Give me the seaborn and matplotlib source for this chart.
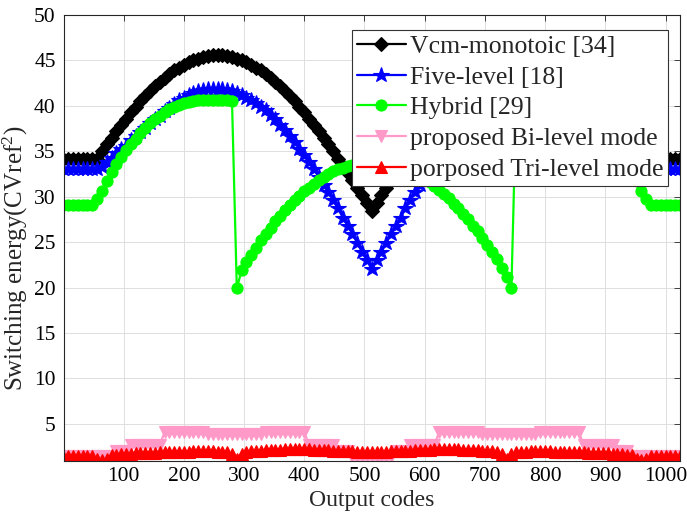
import numpy as np
import pandas as pd
import matplotlib
matplotlib.use("Agg")
import matplotlib.pyplot as plt
import seaborn as sns

# ---------------- data ----------------
codes = list(range(0, 1025, 8))

vcm_monotonic = [
    34.2, 34.2, 34.2, 34.2, 34.2, 34.2, 34.2, 34.2,
    35.0, 35.8, 36.5, 37.2, 37.9, 38.6, 39.3, 39.9,
    40.5, 41.1, 41.6, 42.2, 42.6, 43.1, 43.5, 43.9,
    44.2, 44.5, 44.8, 45.0, 45.2, 45.4, 45.5, 45.6,
    45.6, 45.6, 45.5, 45.4, 45.2, 45.0, 44.8, 44.5,
    44.2, 43.9, 43.5, 43.1, 42.6, 42.2, 41.6, 41.1,
    40.5, 39.9, 39.3, 38.6, 37.9, 37.2, 36.5, 35.8,
    35.0, 34.2, 33.4, 32.6, 31.8, 31.0, 30.2, 29.3,
    28.4,
    29.3, 30.2, 31.0, 31.8, 32.6, 33.4, 34.2, 35.0,
    35.8, 36.5, 37.2, 37.9, 38.6, 39.3, 39.9, 40.5,
    41.1, 41.6, 42.2, 42.6, 43.1, 43.5, 43.9, 44.2,
    44.5, 44.8, 45.0, 45.2, 45.4, 45.5, 45.6, 45.6,
    45.6, 45.5, 45.4, 45.2, 45.0, 44.8, 44.5, 44.2,
    43.9, 43.5, 43.1, 42.6, 42.2, 41.6, 41.1, 40.5,
    39.9, 39.3, 38.6, 37.9, 37.2, 36.5, 35.8, 35.0,
    34.2, 34.2, 34.2, 34.2, 34.2, 34.2, 34.2, 34.2,
]

five_level = [
    33.1, 33.1, 33.1, 33.1, 33.1, 33.1, 33.1, 33.1,
    33.3, 33.8, 34.3, 34.8, 35.2, 35.6, 36.2, 36.7,
    37.1, 37.6, 38.1, 38.5, 38.9, 39.4, 39.8, 40.2,
    40.6, 40.9, 41.2, 41.4, 41.6, 41.7, 41.8, 41.8,
    41.8, 41.8, 41.7, 41.6, 41.4, 41.2, 40.9, 40.6,
    40.3, 39.9, 39.5, 39.0, 38.5, 37.9, 37.3, 36.7,
    36.0, 35.3, 34.6, 33.8, 33.0, 32.2, 31.3, 30.5,
    29.6, 28.7, 27.7, 26.8, 25.9, 24.9, 23.9, 23.0,
    22.0,
    23.0, 23.9, 24.9, 25.9, 26.8, 27.7, 28.7, 29.6,
    30.5, 31.3, 32.2, 33.0, 33.8, 34.6, 35.3, 36.0,
    36.7, 37.3, 37.9, 38.5, 39.0, 39.5, 39.9, 40.3,
    40.6, 40.9, 41.2, 41.4, 41.6, 41.7, 41.8, 41.8,
    41.8, 41.8, 41.7, 41.6, 41.4, 41.2, 40.9, 40.6,
    40.2, 39.8, 39.4, 38.9, 38.5, 38.1, 37.6, 37.1,
    36.7, 36.2, 35.6, 35.2, 34.8, 34.3, 33.8, 33.3,
    33.1, 33.1, 33.1, 33.1, 33.1, 33.1, 33.1, 33.1,
]

hybrid = [
    29.1, 29.1, 29.1, 29.1, 29.1, 29.1, 29.1,
    29.7, 30.6, 31.7, 32.7, 33.6, 34.4, 35.1, 35.8, 36.4, 37.0,
    37.6, 38.1, 38.5, 38.9, 39.3, 39.6, 39.9, 40.1, 40.3, 40.4,
    40.5, 40.6, 40.6, 40.6, 40.6, 40.6, 40.6, 40.6, 40.5,
    19.9, 21.9, 22.8, 23.6, 24.4, 25.2, 25.9, 26.6, 27.3, 27.9,
    28.5, 29.1, 29.6, 30.1, 30.6, 31.0, 31.4, 31.8, 32.2, 32.5,
    32.8, 33.0, 33.2, 33.4, 33.5, 33.6, 33.7, 33.7, 33.7,
    33.7, 33.7, 33.6, 33.5, 33.4, 33.3, 33.1, 32.9, 32.6, 32.3,
    31.9, 31.6, 31.2, 30.7, 30.3, 29.8, 29.2, 28.7, 28.1, 27.5,
    26.8, 26.2, 25.4, 24.7, 23.9, 23.1, 22.2, 21.2, 19.9,
    40.6, 40.6, 40.6, 40.6, 40.6, 40.6, 40.6,
    40.5, 40.4, 40.3, 40.1, 39.9, 39.6, 39.3, 38.9, 38.5, 38.1,
    37.6, 37.0, 36.4, 35.8, 35.1, 34.4, 33.6, 32.7, 31.7, 30.6, 29.7,
    29.1, 29.1, 29.1, 29.1, 29.1, 29.1, 29.1,
]

bi_level = (
    [1.5] * 11 + [2.0] * 3 + [2.7] * 7 + [4.05] * 9 + [3.9] * 12 + [4.05] * 9
    + [2.7] * 6 + [2.0] * 3 + [1.3] * 9 + [2.0] * 3 + [2.7] * 6
    + [4.05] * 9 + [3.9] * 12 + [4.05] * 9 + [2.7] * 7 + [2.0] * 3 + [1.5] * 11
)

tri_level = [
    1.45, 1.45, 1.45, 1.45, 1.45, 1.45, 1.45,
    1.15, 1.05, 1.15,
    1.6, 1.6, 1.65, 1.7, 1.7, 1.75, 1.75, 1.8, 1.8, 1.8, 1.85, 1.85, 1.85,
    1.9, 1.9, 1.9, 1.9, 1.95, 1.95, 1.95, 1.95, 1.95, 1.9, 1.9, 1.85, 1.7,
    1.1,
    1.7, 1.85, 1.95, 2.0, 2.05, 2.1, 2.1, 2.15, 2.15, 2.2, 2.2, 2.2, 2.2, 2.2,
    2.2, 2.15, 2.15, 2.1, 2.1, 2.05, 2.0, 2.0, 1.95, 1.95, 1.9, 1.9, 1.9,
    1.9,
    1.9, 1.9, 1.9, 1.95, 1.95, 2.0, 2.0, 2.05, 2.1, 2.1, 2.15, 2.15, 2.2, 2.2,
    2.2, 2.2, 2.2, 2.2, 2.15, 2.15, 2.1, 2.1, 2.05, 2.0, 1.95, 1.85, 1.7,
    1.1,
    1.7, 1.85, 1.9, 1.9, 1.95, 1.95, 1.95, 1.95, 1.95, 1.9, 1.9, 1.9, 1.9,
    1.85, 1.85, 1.85, 1.8, 1.8, 1.8, 1.75, 1.75, 1.7, 1.7, 1.65, 1.6, 1.6,
    1.15, 1.05, 1.15,
    1.45, 1.45, 1.45, 1.45, 1.45, 1.45, 1.45,
]

labels = ["Vcm-monotoic [34]", "Five-level [18]", "Hybrid [29]",
          "proposed Bi-level mode", "porposed Tri-level mode"]
x_ticks = [100, 200, 300, 400, 500, 600, 700, 800, 900, 1000]
y_ticks = [5, 10, 15, 20, 25, 30, 35, 40, 45, 50]

# ---------------- style ----------------
sns.set_style("white")
plt.rcParams["font.family"] = ["Liberation Serif", "DejaVu Serif"]
plt.rcParams["mathtext.fontset"] = "custom"
plt.rcParams["mathtext.rm"] = "Liberation Serif"
plt.rcParams["mathtext.it"] = "Liberation Serif:italic"

fig = plt.figure(figsize=(6.87, 5.19), dpi=100)
ax = fig.add_axes([64 / 687, (519 - 461) / 519, (680 - 64) / 687, (461 - 15) / 519])

series = [
    (vcm_monotonic, "#000000", "D", 7.0),
    (five_level, "#0000FF", "*", 11.5),
    (hybrid, "#00FF00", "o", 8.0),
    (bi_level, "#FF99C8", "v", 8.5),
    (tri_level, "#FF0000", "^", 8.5),
]

for (vals, col, mk, ms), lab in zip(series, labels):
    df = pd.DataFrame({"code": codes, "energy": vals})
    sns.lineplot(data=df, x="code", y="energy", ax=ax, color=col, marker=mk,
                 markersize=ms, markeredgecolor=col, markerfacecolor=col,
                 markeredgewidth=0.8, linewidth=1.6, label=lab, sort=False,
                 clip_on=True)

ax.set_xlim(1, 1024)
ax.set_ylim(0.9, 50)
ax.set_xticks(x_ticks)
ax.set_yticks(y_ticks)
ax.grid(True, color="#dedede", linewidth=0.7)
ax.set_axisbelow(True)
for sp in ax.spines.values():
    sp.set_color("#262626")
    sp.set_linewidth(0.8)
ax.tick_params(direction="in", length=4, width=0.6, top=True, right=True,
               labelsize=15.5, colors="#262626", labelcolor="black")
ax.tick_params(axis="y", pad=6)
ax.tick_params(axis="x", pad=4)

ax.set_xlabel("Output codes", fontsize=17, labelpad=3)
ax.set_ylabel("Switching energy(CVref$^2$)", fontsize=18)
ax.yaxis.set_label_coords(-0.056, 0.455)

leg = ax.legend(loc="upper right", bbox_to_anchor=(0.981, 0.967),
                borderaxespad=0, fontsize=18.5, frameon=True, fancybox=False,
                framealpha=1, edgecolor="#333333", handlelength=1.9,
                handletextpad=0.15, labelspacing=0.3, borderpad=0.2,
                numpoints=1)
leg.get_frame().set_linewidth(0.8)

fig.savefig("out.png", dpi=100)
